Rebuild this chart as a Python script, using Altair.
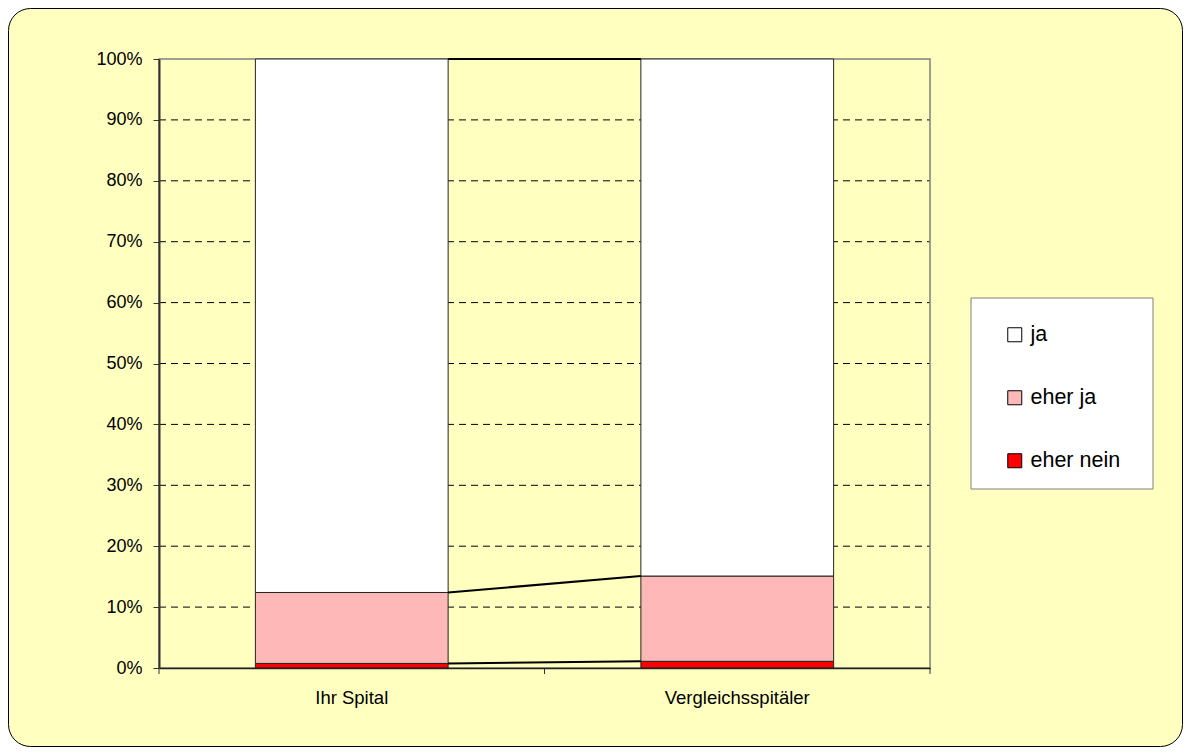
import altair as alt
import pandas as pd

# ---- data ----
categories = ["Ihr Spital", "Vergleichsspitäler"]
series = ["ja", "eher ja", "eher nein"]
ja = [0.876, 0.849]
eher_ja = [0.1165, 0.140]
eher_nein = [0.0075, 0.011]
colors = ["#FFFFFF", "#FFB8B8", "#FF0000"]
y_ticks = [0.0, 0.1, 0.2, 0.3, 0.4, 0.5, 0.6, 0.7, 0.8, 0.9, 1.0]
grid_values = y_ticks[1:-1]

FONT = "Liberation Sans, Arial, sans-serif"
BG = "#FFFFC0"
W, H = 771, 609

# stacked table
rows = []
for i, c in enumerate(categories):
    for order, (s, vals) in enumerate([("eher nein", eher_nein), ("eher ja", eher_ja), ("ja", ja)]):
        rows.append({"cat": c, "series": s, "value": vals[i], "order": order})
df = pd.DataFrame(rows)

# series lines (connect cumulative tops)
def cum(i):
    a = eher_nein[i]
    b = a + eher_ja[i]
    c = b + ja[i]
    return [a, b, c]

ca, cb = cum(0), cum(1)
lines = pd.DataFrame({"from": [categories[0]] * 3, "to": [categories[1]] * 3,
                      "y1": ca, "y2": cb})
grid_df = pd.DataFrame({"t": grid_values})
one = pd.DataFrame({"k": [0]})

xscale = alt.Scale(domain=categories, paddingInner=0.5, paddingOuter=0.25)
yscale = alt.Scale(domain=[0, 1], nice=False)

x_axis = alt.Axis(title=None, labelAngle=0, ticks=False, tickSize=0, labelPadding=20,
                  labelFontSize=18.5, labelFont=FONT, labelColor="black",
                  domainColor="#222222", domainWidth=1.5, zindex=1)
y_axis = alt.Axis(title=None, values=y_ticks, format=".0%", tickSize=6, tickColor="#333333",
                  tickWidth=1, labelPadding=11, labelFontSize=18, labelFont=FONT,
                  labelColor="black", domainColor="#333333", domainWidth=2,
                  grid=False, zindex=1)

frame = alt.Chart(one).mark_rect(
    fill=BG, stroke="black", strokeWidth=1, cornerRadius=22
).encode(x=alt.value(-150.5), x2=alt.value(1023.5), y=alt.value(-50.5), y2=alt.value(687.5))

grid = alt.Chart(grid_df).mark_rule(color="black", strokeWidth=1, strokeDash=[7, 5]).encode(
    y=alt.Y("t:Q", scale=yscale, axis=y_axis), x=alt.value(0), x2=alt.value(W)
)

plot_border = alt.Chart(one).mark_rect(
    fill=None, fillOpacity=0, stroke="#808080", strokeWidth=1.5
).encode(x=alt.value(0), x2=alt.value(W), y=alt.value(0), y2=alt.value(H))

bars = alt.Chart(df).mark_bar(stroke="#222222", strokeWidth=1, opacity=1).encode(
    x=alt.X("cat:N", scale=xscale, sort=categories, axis=x_axis),
    y=alt.Y("value:Q", stack="zero", scale=yscale, axis=y_axis),
    color=alt.Color("series:N", scale=alt.Scale(domain=series, range=colors),
                    legend=alt.Legend(orient="none", legendX=845, legendY=265, title=None,
                                      symbolType="square", symbolSize=196,
                                      symbolStrokeColor="black", symbolStrokeWidth=1,
                                      symbolOpacity=1, labelFontSize=21.5, labelFont=FONT,
                                      labelColor="black", rowPadding=40, padding=0,
                                      labelOffset=5)),
    order=alt.Order("order:Q", sort="ascending"),
)

series_lines = alt.Chart(lines).mark_rule(color="black", strokeWidth=2).encode(
    x=alt.X("from:N", scale=xscale, bandPosition=1, axis=x_axis),
    x2=alt.X2("to:N", bandPosition=0),
    y=alt.Y("y1:Q", scale=yscale, axis=y_axis),
    y2=alt.Y2("y2:Q"),
)

tick_layers = [
    alt.Chart(one).mark_rule(color="#333333", strokeWidth=1).encode(
        x=alt.value(px), y=alt.value(H), y2=alt.value(H + 6))
    for px in [0, W / 2, W]
]

legend_box = alt.Chart(one).mark_rect(fill="white", stroke="#808080", strokeWidth=1).encode(
    x=alt.value(812), x2=alt.value(994), y=alt.value(239), y2=alt.value(430)
)

chart = alt.layer(
    frame, grid, plot_border, bars, series_lines, legend_box, *tick_layers
).properties(
    width=W, height=H,
    autosize=alt.AutoSizeParams(type="none"),
    padding={"left": 151, "top": 51, "right": 253, "bottom": 79},
    background="white",
).configure_view(stroke=None)

chart.save("out.html", embed_options={"renderer": "svg", "actions": False})
